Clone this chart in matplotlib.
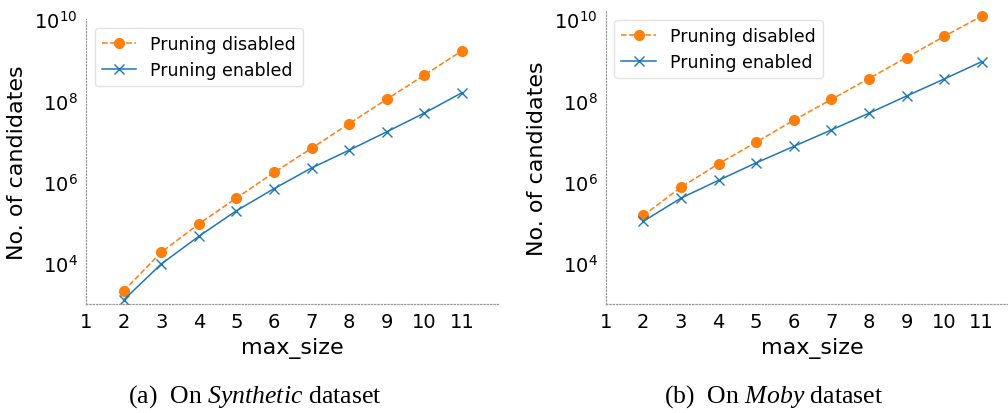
import matplotlib
matplotlib.use("Agg")
import matplotlib.pyplot as plt
import numpy as np

plt.rcParams["mathtext.fontset"] = "custom"
plt.rcParams["mathtext.rm"] = "Liberation Serif"
plt.rcParams["mathtext.it"] = "Liberation Serif:italic"

max_size = [2, 3, 4, 5, 6, 7, 8, 9, 10, 11]
xticks = [1, 2, 3, 4, 5, 6, 7, 8, 9, 10, 11]

syn_disabled = [2.1e3, 1.86e4, 9.3e4, 4.0e5, 1.7e6, 6.7e6, 2.7e7, 1.07e8, 4.2e8, 1.66e9]
syn_enabled = [1.25e3, 9.6e3, 4.6e4, 1.95e5, 6.8e5, 2.2e6, 6.0e6, 1.7e7, 4.9e7, 1.55e8]

moby_disabled = [1.5e5, 7.4e5, 2.8e6, 9.5e6, 3.3e7, 1.07e8, 3.5e8, 1.15e9, 3.8e9, 1.2e10]
moby_enabled = [1.08e5, 4.0e5, 1.1e6, 2.95e6, 7.5e6, 1.9e7, 4.9e7, 1.3e8, 3.4e8, 9.1e8]

W, H = 1008, 414
fig = plt.figure(figsize=(W / 100, H / 100), dpi=100)

def px_axes(x0, y0, x1, y1):
    return fig.add_axes([x0 / W, 1 - y1 / H, (x1 - x0) / W, (y1 - y0) / H])

ax1 = px_axes(86, 20, 499.6, 305)
ax2 = px_axes(605.7, 12, 1019.3, 305)

panels = [
    (ax1, syn_disabled, syn_enabled, (1e3, 1e10)),
    (ax2, moby_disabled, moby_enabled, (1e3, 1.6e10)),
]

for ax, dis, en, ylim in panels:
    ax.plot(max_size, dis, linestyle="--", marker="o", color="#ff7f0e",
            markersize=7, linewidth=1.1, label="Pruning disabled")
    ax.plot(max_size, en, linestyle="-", marker="x", color="#1f77b4",
            markersize=7, linewidth=1.1, label="Pruning enabled")
    ax.set_yscale("log")
    ax.set_xlim(1, 12)
    ax.set_ylim(*ylim)
    ax.set_xticks(xticks)
    ax.set_yticks([1e4, 1e6, 1e8, 1e10])
    ax.minorticks_off()
    ax.tick_params(axis="both", length=0, labelsize=14, pad=6)
    for s in ["top", "right"]:
        ax.spines[s].set_visible(False)
    for s in ["left", "bottom"]:
        ax.spines[s].set_linestyle(":")
        ax.spines[s].set_color("#999999")
        ax.spines[s].set_linewidth(0.9)
    ax.set_xlabel("max_size", fontsize=16, labelpad=4)
    ax.set_ylabel("No. of candidates", fontsize=16, labelpad=5)
    ax.legend(loc="upper left", fontsize=12.5, frameon=True, fancybox=True,
              edgecolor="#dddddd")

fig.text(255 / W, 1 - 397 / H, r"(a)  On $\it{Synthetic}$ dataset",
         ha="center", va="center", fontsize=18.5, family="Liberation Serif")
fig.text(774 / W, 1 - 397 / H, r"(b)  On $\it{Moby}$ dataset",
         ha="center", va="center", fontsize=18.5, family="Liberation Serif")

fig.savefig("out.png", dpi=100)
